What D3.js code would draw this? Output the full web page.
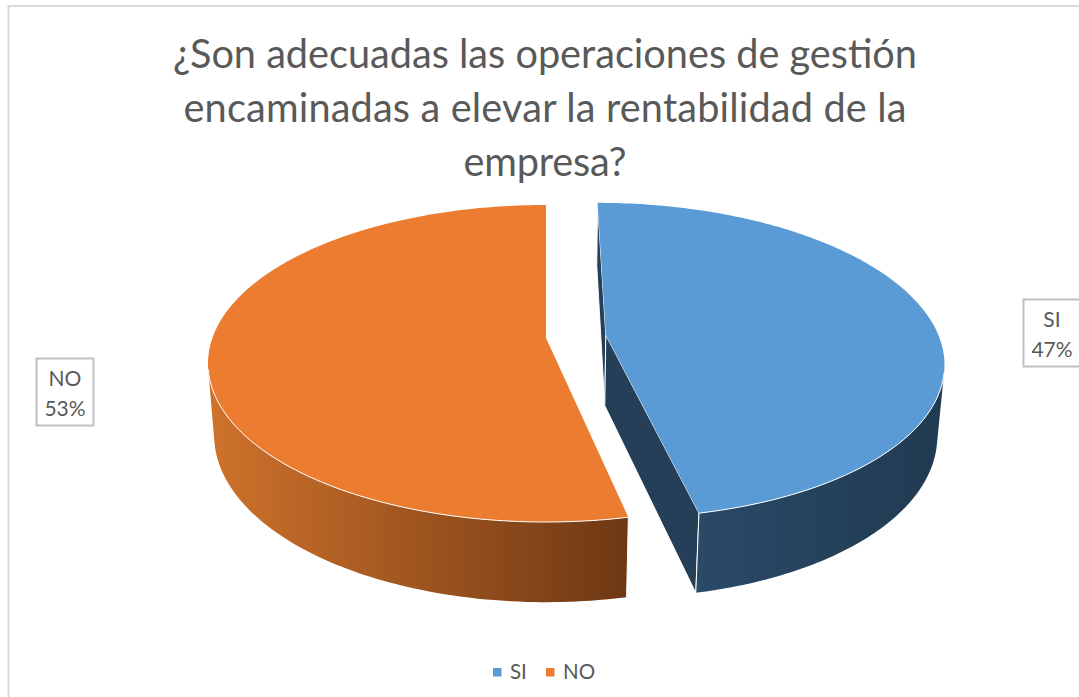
<!DOCTYPE html>
<html>
<head>
<meta charset="utf-8">
<script src="https://cdn.jsdelivr.net/npm/d3@7"></script>
<style>
  html, body { margin: 0; padding: 0; background: #fff; overflow: hidden; }
  text { font-family: "Lato", "Open Sans", sans-serif; fill: #595959; }
</style>
</head>
<body>
<svg id="chart" width="1079" height="697"></svg>
<script>
// Data
const categories = ["SI", "NO"];
const respuestas = [7, 8];
const titleLines = [
  "¿Son adecuadas las operaciones de gestión",
  "encaminadas a elevar la rentabilidad de la",
  "empresa?"
];
const titleWidths = [744, 723, 163];

// Colores
const topColors = ["#5b9bd5", "#eb7c30"];
const wallStops = [
  ["#2a4a68", "#203a50"],
  ["#cf722c", "#6e3813"]
];
const radialWall = "#243f57";

// Geometria del disco en perspectiva
const cx = 546, cy = 338;
const R = 333.6, Rk = 154.4, persp = 0.161;
const depth = 72, depthPersp = 0.018;
const explodeU = [60 / R, 0];
const explodeV = [-0.019, 0];

const svg = d3.select("#chart");
const defs = svg.append("defs");

// x = cx + R*u/w, y = cy + (Rk*v + depth*z)/w
function project(u, v, z) {
  const w = 1 - persp * v + depthPersp * z;
  return [cx + R * u / w, cy + (Rk * v + depth * z) / w];
}

const line = d3.line();
const pie = d3.pie().sort(null).startAngle(0).endAngle(2 * Math.PI);
const slices = pie(respuestas);
const total = d3.sum(respuestas);

// Marco del grafico (sale del lienzo por la derecha y abajo)
svg.append("path")
  .attr("d", "M1090,6 H8.5 V710")
  .attr("fill", "none").attr("stroke", "#d9d9d9").attr("stroke-width", 2);

function rim(i, z) {
  const s = slices[i], n = 180;
  return d3.range(n + 1).map(k => {
    const a = s.startAngle + (s.endAngle - s.startAngle) * k / n;
    return project(explodeU[i] + Math.sin(a), explodeV[i] - Math.cos(a), z);
  });
}

function wedge(g, i) {
  const apexTop = project(explodeU[i], explodeV[i], 0);
  const apexBot = project(explodeU[i], explodeV[i], 1);
  const top = rim(i, 0), bot = rim(i, 1);
  const last = top.length - 1;

  // paredes radiales, solo las del trozo separado se llegan a ver
  if (i === 0) {
    [0, last].forEach(k => {
      g.append("path")
        .attr("d", line([apexTop, top[k], bot[k], apexBot]) + "Z")
        .attr("fill", radialWall)
        .attr("stroke", "#fff").attr("stroke-width", 1).attr("stroke-linejoin", "round");
    });
  }

  // pared exterior: solo los tramos que miran al frente, en un unico path
  const quads = d3.range(last)
    .map(k => [top[k], top[k + 1], bot[k + 1], bot[k]])
    .filter(q => d3.polygonArea(q) > 0);
  g.append("path")
    .attr("d", quads.map(q => line(q) + "Z").join(""))
    .attr("fill", "url(#wall" + i + ")");

  // arista vertical del frente
  const k = i === 0 ? last : 0;
  g.append("path")
    .attr("d", line([top[k], bot[k]]))
    .attr("stroke", "#fff").attr("stroke-width", 1).attr("fill", "none");

  // cara superior
  g.append("path")
    .attr("d", line([apexTop].concat(top)) + "Z")
    .attr("fill", topColors[i]);

  // filo blanco donde la cara pisa la pared
  g.append("path")
    .attr("d", quads.map(q => line([q[0], q[1]])).join(""))
    .attr("fill", "none").attr("stroke", "#fff").attr("stroke-width", 1);
}

// Degradados de las paredes, en pixeles de pantalla
[[697, 945], [208, 627]].forEach((xr, i) => {
  const grad = defs.append("linearGradient")
    .attr("id", "wall" + i)
    .attr("gradientUnits", "userSpaceOnUse")
    .attr("x1", xr[0]).attr("y1", 0).attr("x2", xr[1]).attr("y2", 0);
  grad.append("stop").attr("offset", 0).attr("stop-color", wallStops[i][0]);
  grad.append("stop").attr("offset", 1).attr("stop-color", wallStops[i][1]);
});

// NO primero, SI encima
const pieG = svg.append("g");
wedge(pieG.append("g"), 1);
wedge(pieG.append("g"), 0);

// Titulo
svg.append("g").selectAll("text").data(titleLines).enter().append("text")
  .attr("x", 545)
  .attr("y", (d, i) => 68 + i * 54)
  .attr("text-anchor", "middle")
  .attr("font-size", 39.7)
  .attr("textLength", (d, i) => titleWidths[i])
  .attr("lengthAdjust", "spacing")
  .text(d => d);

// Etiquetas de datos
const labelBoxes = [
  { x: 1023.5, y: 299.5, w: 57, h: 67 },
  { x: 36.5, y: 358.5, w: 57, h: 67 }
];
categories.forEach((c, i) => {
  const b = labelBoxes[i];
  const g = svg.append("g");
  g.append("rect")
    .attr("x", b.x).attr("y", b.y).attr("width", b.w).attr("height", b.h)
    .attr("fill", "#fff").attr("stroke", "#bfbfbf").attr("stroke-width", 2);
  g.append("text")
    .attr("x", b.x + b.w / 2).attr("y", b.y + 27)
    .attr("text-anchor", "middle").attr("font-size", 21)
    .text(c);
  g.append("text")
    .attr("x", b.x + b.w / 2).attr("y", b.y + 57)
    .attr("text-anchor", "middle").attr("font-size", 21)
    .text(d3.format(".0%")(respuestas[i] / total));
});

// Leyenda
const legendX = [493, 546];
categories.forEach((c, i) => {
  svg.append("rect")
    .attr("x", legendX[i]).attr("y", 668).attr("width", 8.5).attr("height", 8.5)
    .attr("fill", topColors[i]);
  svg.append("text")
    .attr("x", legendX[i] + 17).attr("y", 679)
    .attr("font-size", 20.5)
    .text(c);
});
</script>
</body>
</html>
